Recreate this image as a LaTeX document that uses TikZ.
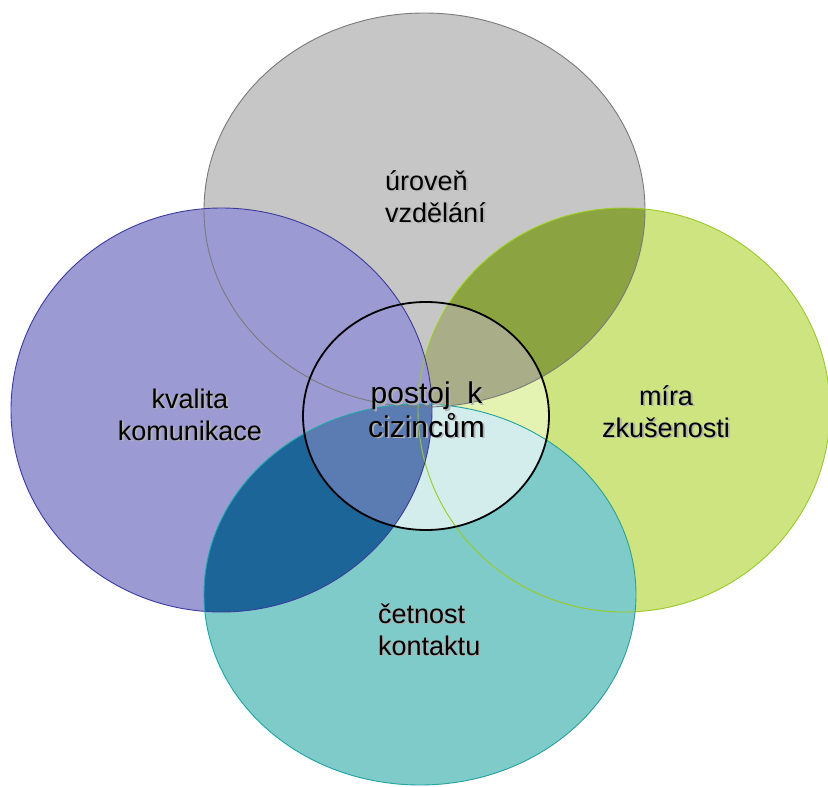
\documentclass[tikz,border=0pt]{standalone}
\usepackage{fontspec}
\setmainfont{Liberation Sans}
\definecolor{grayfill}{HTML}{C6C6C6}
\definecolor{grayline}{HTML}{7A7A7A}
\definecolor{purplefill}{HTML}{9C9AD3}
\definecolor{purpleline}{HTML}{3B3B9E}
\definecolor{greenfill}{HTML}{CDE480}
\definecolor{greenline}{HTML}{99CC1F}
\definecolor{tealfill}{HTML}{7ECBC9}
\definecolor{tealline}{HTML}{22A3A3}
\definecolor{olive}{HTML}{8BA441}
\definecolor{deepblue}{HTML}{1B6598}
\definecolor{inolive}{HTML}{A9AE88}
\definecolor{ingreen}{HTML}{E4F2B2}
\definecolor{inteal}{HTML}{D3EDED}
\definecolor{inblue}{HTML}{5A7CB3}
\newcommand{\shd}[1]{\leavevmode\rlap{\kern1.8pt\raisebox{-1.8pt}{\color{black!30}#1}}#1}

\begin{document}
\begin{tikzpicture}[x=1pt,y=-1pt,
		lbl/.style={inner sep=0pt, font=\fontsize{27}{32}\selectfont}]
		\clip (0,0) rectangle (828,787);
		\coordinate (gc) at (424.5,210);
		\coordinate (pc) at (221.5,410);
		\coordinate (zc) at (624,410);
		\coordinate (tc) at (420,594.5);
		\coordinate (cc) at (426,416);
		\fill[grayfill] (gc) ellipse [x radius=220.5, y radius=197];
		\fill[greenfill] (zc) ellipse [x radius=206, y radius=202];
		\begin{scope}
			\clip (gc) ellipse [x radius=220.5, y radius=197];
			\fill[olive] (zc) ellipse [x radius=206, y radius=202];
		\end{scope}
		\fill[purplefill] (pc) ellipse [x radius=210.5, y radius=202];
		\fill[tealfill] (tc) ellipse [x radius=216, y radius=190.5];
		\begin{scope}
			\clip (pc) ellipse [x radius=210.5, y radius=202];
			\fill[deepblue] (tc) ellipse [x radius=216, y radius=190.5];
		\end{scope}
		\begin{scope}
			\clip (cc) ellipse [x radius=123, y radius=114];
			\fill[grayfill] (gc) ellipse [x radius=220.5, y radius=197];
			\fill[ingreen] (zc) ellipse [x radius=206, y radius=202];
			\begin{scope}
				\clip (gc) ellipse [x radius=220.5, y radius=197];
				\fill[inolive] (zc) ellipse [x radius=206, y radius=202];
			\end{scope}
			\fill[purplefill] (pc) ellipse [x radius=210.5, y radius=202];
			\fill[inteal] (tc) ellipse [x radius=216, y radius=190.5];
			\begin{scope}
				\clip (pc) ellipse [x radius=210.5, y radius=202];
				\fill[inblue] (tc) ellipse [x radius=216, y radius=190.5];
			\end{scope}
		\end{scope}
		\draw[grayline, line width=0.9pt] (gc) ellipse [x radius=220.5, y radius=197];
		\draw[greenline, line width=0.9pt] (zc) ellipse [x radius=206, y radius=202];
		\draw[purpleline, line width=0.9pt] (pc) ellipse [x radius=210.5, y radius=202];
		\draw[tealline, line width=0.9pt] (tc) ellipse [x radius=216, y radius=190.5];
		\draw[black, line width=1.8pt] (cc) ellipse [x radius=123, y radius=114];
		\node[lbl, align=left, anchor=base west] (edu) at (385,222) {\shd{úroveň}\\\shd{vzdělání}};
		\node[lbl, align=center, anchor=base] (comm) at (190,440) {\shd{kvalita}\\\shd{komunikace}};
		\node[lbl, align=center, anchor=base] (exp) at (666,437) {\shd{míra}\\\shd{zkušenosti}};
		\node[lbl, align=left, anchor=base west] (freq) at (378,655) {\shd{četnost}\\\shd{kontaktu}};
		\node[lbl, font=\fontsize{30}{32}\selectfont, align=center, anchor=base] (att) at (426.5,437) {\shd{postoj\ \ k}\\\shd{cizincům}};
	\end{tikzpicture}
\end{document}
